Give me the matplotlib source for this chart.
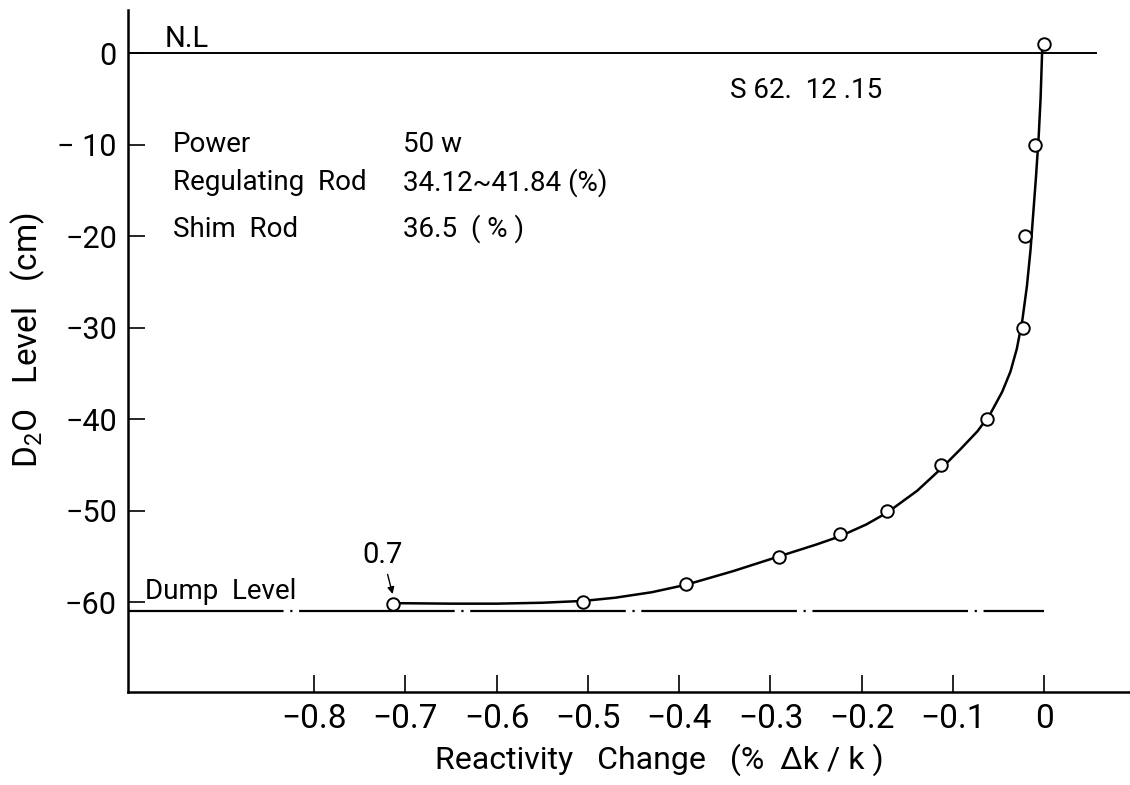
import matplotlib
matplotlib.use("Agg")
import matplotlib.pyplot as plt

# Fuente algo estrecha, parecida a la rotulacion del original
fuente = 'Roboto'
plt.rcParams['font.family'] = [fuente, 'DejaVu Sans']
plt.rcParams['mathtext.fontset'] = 'custom'
plt.rcParams['mathtext.rm'] = fuente
plt.rcParams['mathtext.it'] = fuente

# Puntos medidos
reactividad = [0.0, -0.010, -0.021, -0.023, -0.0625, -0.113, -0.172, -0.224, -0.291, -0.393, -0.505, -0.714]
nivel = [1.0, -10.0, -20.0, -30.0, -40.0, -45.0, -50.0, -52.5, -55.0, -58.0, -60.0, -60.2]

# Curva trazada a mano
curva_x = [-0.705, -0.65, -0.60, -0.55, -0.505, -0.47, -0.43, -0.393, -0.341, -0.291,
           -0.25, -0.224, -0.195, -0.172, -0.139, -0.113, -0.092, -0.073, -0.059, -0.046,
           -0.037, -0.030, -0.024, -0.019, -0.015, -0.012, -0.009, -0.006, -0.004, -0.002]
curva_y = [-60.1, -60.15, -60.15, -60.05, -59.85, -59.5, -58.9, -58.1, -56.6, -55.0,
           -53.7, -52.8, -51.5, -50.2, -47.8, -45.4, -43.3, -41.3, -39.4, -37.0,
           -34.8, -32.3, -29.2, -25.5, -21.5, -17.5, -13.5, -9.0, -5.0, 1.0]

# Ejes
ticks_x = [-0.8, -0.7, -0.6, -0.5, -0.4, -0.3, -0.2, -0.1, 0.0]
etiquetas_x = ['−0.8', '−0.7', '−0.6', '−0.5', '−0.4', '−0.3', '−0.2', '−0.1', '0']
ticks_y = [0, -10, -20, -30, -40, -50, -60]
etiquetas_y = ['0', '− 10', '−20', '−30', '−40', '−50', '−60']

nivel_normal = 0.0
nivel_descarga = -61.0

fig = plt.figure(figsize=(11.3, 7.85), dpi=100)
ax = fig.add_axes([128 / 1130, 93 / 785, 1002 / 1130, 682 / 785])

ax.axhline(nivel_normal, xmin=0, xmax=(0.057 + 1.004) / 1.098, color='black', linewidth=1.4)
ax.plot([-1.004, 0.0], [nivel_descarga, nivel_descarga], color='black', linewidth=1.6,
        linestyle=(0, (70, 3, 1, 3)))

ax.plot(curva_x, curva_y, color='black', linewidth=1.8, zorder=3)
ax.plot(reactividad, nivel, linestyle='none', marker='o', markersize=9,
        markerfacecolor='white', markeredgecolor='black', markeredgewidth=1.4, zorder=4)

ax.set_xlim(-1.004, 0.094)
ax.set_ylim(-69.8, 4.7)
ax.set_xticks(ticks_x)
ax.set_xticklabels(etiquetas_x)
ax.set_yticks(ticks_y)
ax.set_yticklabels(etiquetas_y)
ax.tick_params(direction='in', length=12, width=1.2, labelsize=22, pad=8)
ax.tick_params(axis='x', labelsize=24)

ax.spines['top'].set_visible(False)
ax.spines['right'].set_visible(False)
ax.spines['left'].set_linewidth(1.8)
ax.spines['bottom'].set_linewidth(1.8)

# Textos
tam = 20
ax.text(-0.964, 0.7, 'N.L', fontsize=21, va='baseline')
ax.text(-0.344, -4.9, 'S 62.  12 .15', fontsize=tam, va='baseline')
ax.text(-0.955, -10.8, 'Power', fontsize=tam, va='baseline')
ax.text(-0.955, -15.0, 'Regulating  Rod', fontsize=tam, va='baseline')
ax.text(-0.955, -20.1, 'Shim  Rod', fontsize=tam, va='baseline')
ax.text(-0.703, -10.8, '50 w', fontsize=tam, va='baseline')
ax.text(-0.703, -15.0, '34.12~41.84 (%)', fontsize=tam, va='baseline')
ax.text(-0.703, -20.1, '36.5  ( % )', fontsize=tam, va='baseline')
ax.text(-0.985, -59.6, 'Dump  Level', fontsize=tam, va='baseline')
ax.annotate('0.7', xy=(-0.714, -59.1), xytext=(-0.725, -55.7), fontsize=21,
            ha='center', va='baseline',
            arrowprops=dict(arrowstyle='-|>', color='black', linewidth=1, mutation_scale=10,
                            shrinkA=2, shrinkB=0))

fig.text(659 / 1130, 1 - 760 / 785, 'Reactivity   Change   (%  Δk / k )', fontsize=23,
         ha='center', va='center')
fig.text(28 / 1130, 1 - 340 / 785, r'D$_2$O   Level   (cm)', fontsize=24,
         ha='center', va='center', rotation=90)

fig.savefig('out.png', dpi=100)
